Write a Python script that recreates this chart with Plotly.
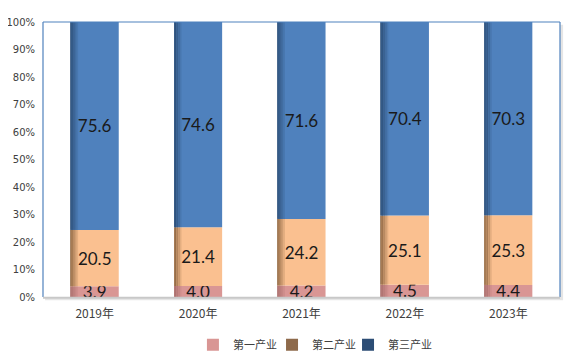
import plotly.graph_objects as go
import numpy as np

years = ["2019年", "2020年", "2021年", "2022年", "2023年"]
primary = [3.9, 4.0, 4.2, 4.5, 4.4]
secondary = [20.5, 21.4, 24.2, 25.1, 25.3]
tertiary = [75.6, 74.6, 71.6, 70.4, 70.3]
series_names = ["第一产业", "第二产业", "第三产业"]
y_ticks = list(range(0, 101, 10))
y_tick_labels = [f"{v}%" for v in y_ticks]

bar_colors = ["#D99694", "#FAC090", "#4F81BD"]
shade_colors = ["#A86E6C", "#8A6441", "#2C4D75"]
legend_colors = ["#D99694", "#8E6A4B", "#2C4D75"]

series = [primary, secondary, tertiary]
bases = [np.zeros(len(years))]
for s in series[:-1]:
    bases.append(bases[-1] + np.array(s))

BW = 0.465
fig = go.Figure()
label_font = dict(family="Lato, Open Sans, sans-serif", size=17, color="#1a1a1a")
for i, (name, vals) in enumerate(zip(series_names, series)):
    fig.add_trace(go.Bar(
        x=years, y=vals, base=bases[i], width=BW, name=name,
        marker=dict(color=bar_colors[i], line=dict(width=0)),
        text=[f"{v:.1f}" for v in vals], textposition="inside",
        insidetextanchor="middle", constraintext="none",
        textfont=label_font, showlegend=False, hoverinfo="skip",
    ))
    # left-edge gradient shading
    nstrips = 4
    sw = 0.018
    for k in range(nstrips):
        fig.add_trace(go.Bar(
            x=years, y=vals, base=bases[i], width=sw,
            offset=-BW / 2 + k * sw,
            marker=dict(color=shade_colors[i], line=dict(width=0)),
            opacity=0.75 * (1 - k / nstrips),
            showlegend=False, hoverinfo="skip",
        ))

# legend entries (one legend box per entry for precise spacing)
legend_ids = ["legend", "legend2", "legend3"]
for name, c, lid in zip(series_names, legend_colors, legend_ids):
    fig.add_trace(go.Bar(x=[years[0]], y=[None], name=name, legend=lid,
                         marker=dict(color=c, line=dict(width=0))))

leg_common = dict(orientation="h", xanchor="left", y=-0.174, yanchor="middle",
                  font=dict(family="Noto Sans CJK SC", size=11, color="#404040"),
                  itemwidth=30, bgcolor="rgba(0,0,0,0)")
legend_x = [0.2900, 0.4430, 0.5900]

fig.update_layout(
    width=569, height=350,
    margin=dict(l=35, r=17, t=14, b=61, autoexpand=False),
    barmode="overlay",
    paper_bgcolor="white", plot_bgcolor="white",
    font=dict(family="DejaVu Sans, sans-serif", size=10, color="#404040"),
    showlegend=True,
    legend=dict(x=legend_x[0], **leg_common),
    legend2=dict(x=legend_x[1], **leg_common),
    legend3=dict(x=legend_x[2], **leg_common),
    xaxis=dict(showgrid=False, zeroline=False, showline=False, ticks="",
               ticklabelstandoff=8,
               tickfont=dict(family="Noto Sans CJK SC, DejaVu Sans", size=12, color="#404040")),
    yaxis=dict(range=[0, 100], tickmode="array", tickvals=y_ticks, ticktext=y_tick_labels,
               showgrid=False, zeroline=False, showline=False, ticks="", ticklabelstandoff=7,
               tickfont=dict(family="DejaVu Sans, sans-serif", size=10, color="#404040")),
    shapes=[
        # shadow right & bottom
        dict(type="rect", xref="paper", yref="paper", x0=0.004, x1=1.006, y0=-0.012, y1=0.99,
             line=dict(width=0), fillcolor="rgba(0,0,0,0.10)", layer="below"),
        dict(type="rect", xref="paper", yref="paper", x0=0, x1=1, y0=0, y1=1,
             line=dict(width=0), fillcolor="white", layer="below"),
        dict(type="line", xref="paper", yref="paper", x0=0, x1=0, y0=0, y1=1,
             line=dict(color="#4F81BD", width=1.2)),
        dict(type="line", xref="paper", yref="paper", x0=0, x1=1, y0=1, y1=1,
             line=dict(color="#4F81BD", width=1.2)),
        dict(type="line", xref="paper", yref="paper", x0=1, x1=1, y0=0, y1=1,
             line=dict(color="#4F81BD", width=1.2)),
        dict(type="line", xref="paper", yref="paper", x0=0, x1=1, y0=-0.003, y1=-0.003,
             line=dict(color="#C8C8C8", width=2)),
    ],
)

fig.write_html("out.html")
